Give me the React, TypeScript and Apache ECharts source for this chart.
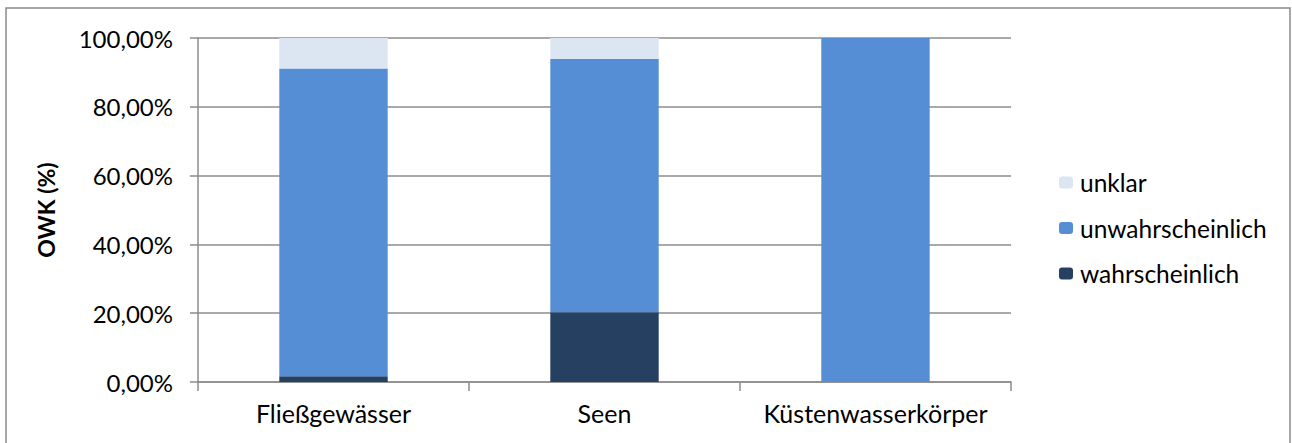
import React, { useEffect, useRef } from "react";
import * as echarts from "echarts";

const categories = ["Fließgewässer", "Seen", "Küstenwasserkörper"];
const wahrscheinlich = [1.7, 20.3, 0];
const unwahrscheinlich = [89.4, 73.6, 100];
const unklar = [8.9, 6.1, 0];
const legendOrder = ["unklar", "unwahrscheinlich", "wahrscheinlich"];

const FONT = "Lato";
const GRID = "#8c8c8c";

export default function App() {
  const ref = useRef<HTMLDivElement>(null);
  useEffect(() => {
    const chart = echarts.init(ref.current!, null, { renderer: "svg" });
    chart.setOption({
      animation: false,
      textStyle: { fontFamily: FONT },
      grid: { left: 198, right: 281, top: 38, bottom: 61 },
      graphic: [
        {
          type: "rect",
          shape: { x: 6, y: 8, width: 1284, height: 460 },
          style: { fill: "none", stroke: "#8a8a8a", lineWidth: 1.5 },
          silent: true,
        },
      ],
      legend: {
        orient: "vertical",
        left: 1054,
        top: 165,
        itemWidth: 14,
        itemHeight: 12,
        itemGap: 20.5,
        data: legendOrder,
        textStyle: { fontFamily: FONT, fontSize: 24.5, color: "#000", lineHeight: 25, padding: [0, 0, 0, 2] },
      },
      xAxis: {
        type: "category",
        data: categories,
        axisLine: { lineStyle: { color: GRID, width: 1.5 } },
        axisTick: { show: true, length: 9, lineStyle: { color: GRID, width: 1.5 } },
        axisLabel: { fontFamily: FONT, fontSize: 25, color: "#000", margin: 18, interval: 0 },
      },
      yAxis: {
        type: "value",
        min: 0,
        max: 100,
        interval: 20,
        name: "OWK (%)",
        nameLocation: "middle",
        nameRotate: 90,
        nameGap: 141,
        nameTextStyle: { fontFamily: FONT, fontSize: 23, fontWeight: "bold", color: "#000" },
        axisLine: { show: true, lineStyle: { color: GRID, width: 1.5 } },
        axisTick: { show: true, length: 8, lineStyle: { color: GRID, width: 1.5 } },
        axisLabel: {
          fontFamily: FONT,
          fontSize: 24,
          color: "#000",
          margin: 25,
          formatter: (v: number) => v.toFixed(2).replace(".", ",") + "%",
        },
        splitLine: { lineStyle: { color: GRID, width: 1.5 } },
      },
      series: [
        {
          name: "wahrscheinlich",
          type: "bar",
          stack: "a",
          barWidth: "40%",
          data: wahrscheinlich,
          itemStyle: { color: "#254061" },
        },
        {
          name: "unwahrscheinlich",
          type: "bar",
          stack: "a",
          barWidth: "40%",
          data: unwahrscheinlich,
          itemStyle: { color: "#558ED5" },
        },
        {
          name: "unklar",
          type: "bar",
          stack: "a",
          barWidth: "40%",
          data: unklar,
          itemStyle: { color: "#DCE6F2" },
        },
      ],
    });
    return () => chart.dispose();
  }, []);
  return (
    <div
      ref={ref}
      style={{ position: "absolute", left: 0, top: 0, width: 1292, height: 443, background: "#fff" }}
    />
  );
}
